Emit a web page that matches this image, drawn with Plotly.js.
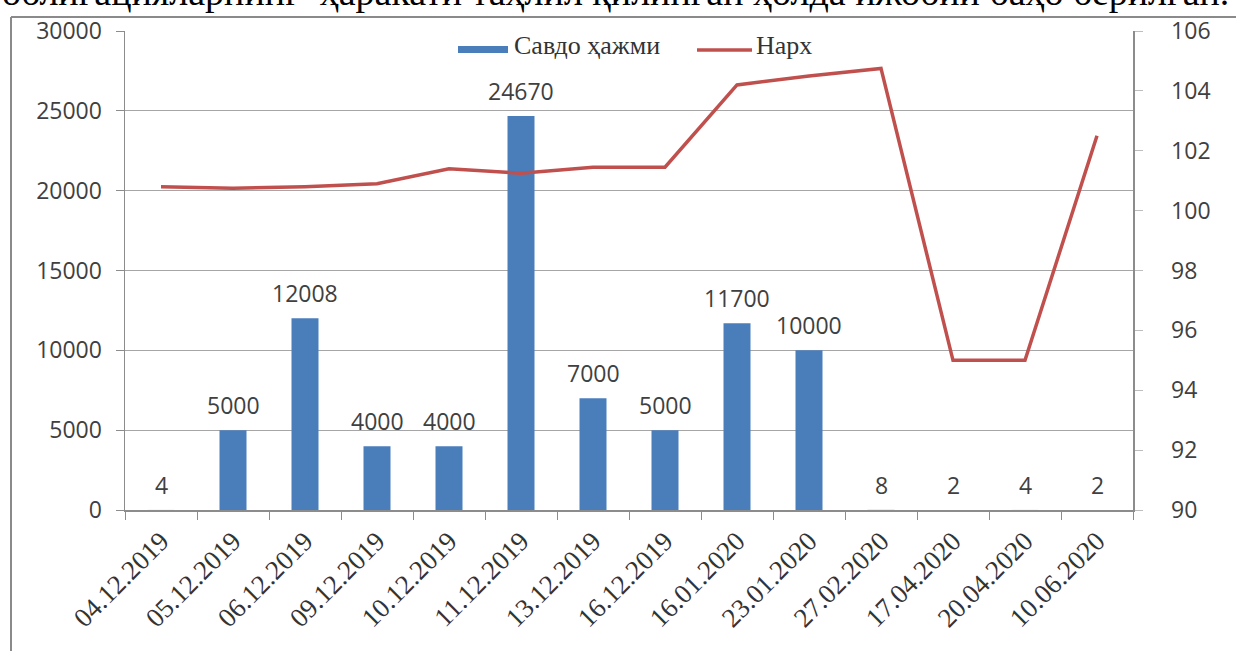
<!DOCTYPE html>
<html>
<head>
<meta charset="utf-8">
<script src="https://cdn.plot.ly/plotly-3.0.1.min.js"></script>
<style>
html,body{margin:0;padding:0;background:#fff;overflow:hidden;}
#chart{width:1236px;height:651px;}
</style>
</head>
<body>
<div id="chart"></div>
<script>
// ---- data ----
const dates = ["04.12.2019","05.12.2019","06.12.2019","09.12.2019","10.12.2019","11.12.2019","13.12.2019","16.12.2019","16.01.2020","23.01.2020","27.02.2020","17.04.2020","20.04.2020","10.06.2020"];
const volume = [4, 5000, 12008, 4000, 4000, 24670, 7000, 5000, 11700, 10000, 8, 2, 4, 2];
const price = [100.8, 100.75, 100.8, 100.9, 101.4, 101.25, 101.45, 101.45, 104.2, 104.5, 104.75, 95, 95, 102.5];
const volumeName = "Савдо ҳажми";
const priceName = "Нарх";
const leftTicks = [0, 5000, 10000, 15000, 20000, 25000, 30000];
const rightTicks = [90, 92, 94, 96, 98, 100, 102, 104, 106];
const topText = "облигацияларнинг  ҳаракати таҳлил қилинган ҳолда ижобий баҳо берилган.";

// ---- geometry helpers (pixel -> paper) ----
const W = 1236, H = 651;
const M = {l:125, r:103, t:31, b:141};
const pw = W - M.l - M.r, ph = H - M.t - M.b;
const px = x => (x - M.l) / pw;
const py = y => (H - M.b - y) / ph;

const BLUE = "#4A7EBB", RED = "#C0504D";
const serif = "Liberation Serif, Times New Roman, serif";
const sansLbl = {family: "Open Sans, sans-serif", size: 23, color: "#404040"};

const traces = [
  {
    type: "bar",
    name: volumeName,
    x: dates,
    y: volume,
    marker: {color: BLUE},
    hoverinfo: "x+y"
  },
  {
    type: "scatter",
    mode: "lines",
    name: priceName,
    x: dates,
    y: price,
    yaxis: "y2",
    line: {color: RED, width: 3.5},
    hoverinfo: "x+y"
  }
];

// data labels above bars, positioned through the axes
const valueLabels = dates.map((d, i) => ({
  xref: "x", yref: "y",
  x: d, y: volume[i],
  yanchor: "middle", yshift: 25,
  text: String(volume[i]),
  showarrow: false,
  font: sansLbl
}));

const legendFont = {family: serif, size: 26, color: "#333333"};

const layout = {
  width: W, height: H,
  margin: M,
  paper_bgcolor: "#ffffff",
  plot_bgcolor: "#ffffff",
  bargap: 0.625,
  showlegend: false,
  xaxis: {
    type: "category",
    tickangle: -45,
    tickfont: {family: serif, size: 27, color: "#333333"},
    showline: true, linecolor: "#8c8c8c", linewidth: 1.5,
    ticks: "outside", ticklen: 8, tickcolor: "#8c8c8c", tickson: "boundaries",
    ticklabelstandoff: 3,
    showgrid: false,
    fixedrange: true
  },
  yaxis: {
    range: [0, 30000],
    tickvals: leftTicks,
    ticktext: leftTicks.map(String),
    tickfont: sansLbl,
    showline: true, linecolor: "#8c8c8c", linewidth: 1.5,
    ticks: "outside", ticklen: 8, tickcolor: "#8c8c8c",
    showgrid: true, gridcolor: "#a6a6a6", gridwidth: 1.2,
    zeroline: false,
    ticklabelstandoff: 9,
    fixedrange: true
  },
  yaxis2: {
    range: [90, 106],
    tickvals: rightTicks,
    ticktext: rightTicks.map(String),
    tickfont: sansLbl,
    overlaying: "y",
    side: "right",
    showline: true, linecolor: "#8c8c8c", linewidth: 1.5,
    ticks: "outside", ticklen: 8, tickcolor: "#bdbdbd",
    showgrid: false, zeroline: false,
    ticklabelstandoff: 24,
    fixedrange: true
  },
  shapes: [
    // outer frame
    {type: "line", xref: "paper", yref: "paper", x0: px(11), x1: px(1236), y0: py(17), y1: py(17), line: {color: "#8a8a8a", width: 2}},
    {type: "line", xref: "paper", yref: "paper", x0: px(11), x1: px(11), y0: py(17), y1: py(651), line: {color: "#8a8a8a", width: 2}},
    // legend swatches
    {type: "rect", xref: "paper", yref: "paper", x0: px(458), x1: px(508), y0: py(53), y1: py(46), fillcolor: BLUE, line: {width: 0}},
    {type: "line", xref: "paper", yref: "paper", x0: px(697), x1: px(752), y0: py(50), y1: py(50), line: {color: RED, width: 3.5}}
  ],
  annotations: [
    {
      xref: "paper", yref: "paper",
      x: px(0), xanchor: "left",
      y: py(15), yanchor: "bottom",
      text: topText,
      showarrow: false,
      font: {family: serif, size: 38, color: "#000000"}
    },
    {
      xref: "paper", yref: "paper",
      x: px(512), xanchor: "left",
      y: py(46), yanchor: "middle",
      text: volumeName, showarrow: false, font: legendFont
    },
    {
      xref: "paper", yref: "paper",
      x: px(754), xanchor: "left",
      y: py(46), yanchor: "middle",
      text: priceName, showarrow: false, font: legendFont
    }
  ].concat(valueLabels)
};

Plotly.newPlot("chart", traces, layout, {staticPlot: true, displayModeBar: false});
</script>
</body>
</html>
